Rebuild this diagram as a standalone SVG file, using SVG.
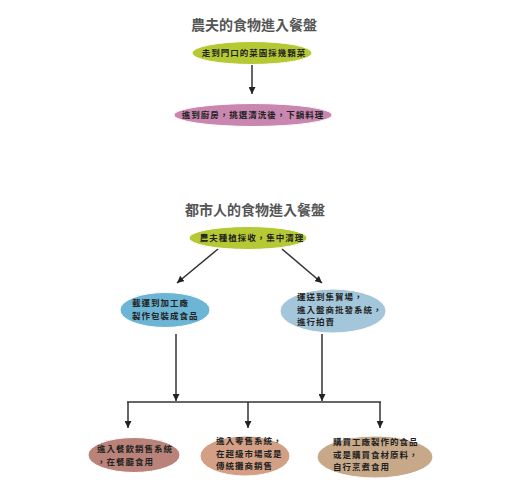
<svg xmlns="http://www.w3.org/2000/svg" width="520" height="500" viewBox="0 0 520 500">
<style>
.t{font-family:"Noto Sans CJK TC","Noto Sans CJK SC",sans-serif;font-size:14px;fill:#555;text-anchor:middle;font-weight:bold}
.n{font-family:"Noto Sans CJK TC","Noto Sans CJK SC",sans-serif;font-size:8.5px;letter-spacing:1px;fill:#222;font-weight:bold}
.c{text-anchor:middle}
.e{stroke:#fff;stroke-width:1}
.l{stroke:#333;stroke-width:1.5;fill:none}
</style>
<defs>
<marker id="ah" viewBox="0 0 10 10" refX="10" refY="5" markerWidth="7" markerHeight="7" markerUnits="userSpaceOnUse" orient="auto">
<path d="M0,0 L10,5 L0,10 Z" fill="#222"/>
</marker>
</defs>
<text class="t" x="254" y="30">農夫的食物進入餐盤</text>
<text class="t" x="255" y="215">都市人的食物進入餐盤</text>
<g id="connectors">
<line class="l" x1="252" y1="64" x2="252" y2="94" marker-end="url(#ah)"/>
<line class="l" x1="218" y1="249" x2="177" y2="283" marker-end="url(#ah)"/>
<line class="l" x1="282" y1="249" x2="322" y2="283" marker-end="url(#ah)"/>
<line class="l" x1="176" y1="334" x2="176" y2="401" marker-end="url(#ah)"/>
<line class="l" x1="322" y1="334" x2="322" y2="401" marker-end="url(#ah)"/>
<line class="l" x1="127" y1="402" x2="381" y2="402"/>
<line class="l" x1="128" y1="402" x2="128" y2="428" marker-end="url(#ah)"/>
<line class="l" x1="248" y1="402" x2="248" y2="428" marker-end="url(#ah)"/>
<line class="l" x1="380" y1="402" x2="380" y2="428" marker-end="url(#ah)"/>
</g>
<g id="n1"><ellipse class="e" cx="252" cy="53" rx="60" ry="11.5" fill="#b5c934"/><text class="n c" x="254" y="56">走到門口的菜園採幾顆菜</text></g>
<g id="n2"><ellipse class="e" cx="253" cy="115" rx="79" ry="11.5" fill="#c987b0"/><text class="n c" x="253" y="118">進到廚房，挑選清洗後，下鍋料理</text></g>
<g id="n3"><ellipse class="e" cx="248" cy="238" rx="59" ry="11.5" fill="#b5c934"/><text class="n c" x="252" y="241">農夫種植採收，集中清理</text></g>
<g id="n4"><ellipse class="e" cx="165" cy="310" rx="45" ry="17.5" fill="#6db5d4"/><text class="n" x="132" y="306">載運到加工廠</text><text class="n" x="132" y="318.5">製作包裝成食品</text></g>
<g id="n5"><ellipse class="e" cx="333" cy="311" rx="53" ry="22" fill="#a4c6da"/><text class="n" x="297" y="300">運送到集貿場，</text><text class="n" x="297" y="312.5">進入盤商批發系統，</text><text class="n" x="297" y="325">進行拍賣</text></g>
<g id="n6"><ellipse class="e" cx="134" cy="455" rx="46" ry="17.5" fill="#b9837a"/><text class="n" x="97" y="452">進入餐飲銷售系統</text><text class="n" x="97" y="464.5">，在餐廳食用</text></g>
<g id="n7"><ellipse class="e" cx="245" cy="456" rx="45" ry="20" fill="#d4a085"/><text class="n" x="216" y="444">進入零售系統，</text><text class="n" x="216" y="456.5">在超級市場或是</text><text class="n" x="216" y="469">傳統攤商銷售</text></g>
<g id="n8"><ellipse class="e" cx="375" cy="457" rx="58" ry="21" fill="#c7a888"/><text class="n" x="333" y="445">購買工廠製作的食品</text><text class="n" x="333" y="457.5">或是購買食材原料，</text><text class="n" x="333" y="470">自行烹煮食用</text></g>
</svg>
